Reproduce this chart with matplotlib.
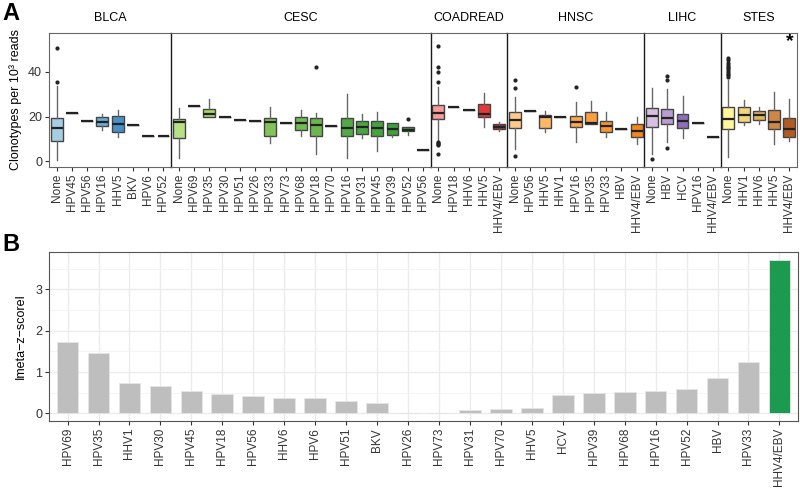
import matplotlib
matplotlib.use("Agg")
import matplotlib.pyplot as plt
import numpy as np

plt.rcParams['font.family'] = ['Liberation Sans', 'DejaVu Sans']

# ---------------- Panel A data (box stats) ----------------
BLCA_cats = ["None", "HPV45", "HPV56", "HPV16", "HHV5", "BKV", "HPV6", "HPV52"]
BLCA_lo   = [0.5, 21.5, 18.0, 14.0, 11.0, 16.1, 11.5, 11.3]
BLCA_q1   = [9.1, 21.5, 18.0, 15.7, 13.0, 16.1, 11.5, 11.3]
BLCA_med  = [15.0, 21.5, 18.0, 17.4, 16.8, 16.1, 11.5, 11.3]
BLCA_q3   = [19.2, 21.5, 18.0, 19.7, 20.4, 16.1, 11.5, 11.3]
BLCA_hi   = [33.7, 21.5, 18.0, 21.0, 22.8, 16.1, 11.5, 11.3]
BLCA_out  = [[35.6, 50.8], [], [], [], [], [], [], []]
BLCA_col  = ["#a6cee3", "#a6cee3", "#a6cee3", "#6baed6", "#4a90c8", "#4a90c8", "#3b7fba", "#2f6fae"]

CESC_cats = ["None", "HPV69", "HPV35", "HPV30", "HPV51", "HPV26", "HPV33", "HPV73", "HPV68",
             "HPV18", "HPV70", "HPV16", "HPV31", "HPV45", "HPV39", "HPV52", "HPV56"]
CESC_lo   = [1.6, 24.7, 19.8, 20.0, 18.3, 18.0, 8.3, 17.3, 11.3, 3.1, 15.7, 1.3, 10.6, 4.5, 11.0, 11.8, 5.1]
CESC_q1   = [10.6, 24.7, 19.8, 20.0, 18.3, 18.0, 11.5, 17.3, 14.1, 11.2, 15.7, 11.5, 12.1, 11.5, 11.6, 13.6, 5.1]
CESC_med  = [17.7, 24.7, 21.0, 20.0, 18.3, 18.0, 17.4, 17.3, 17.0, 16.4, 15.7, 15.0, 15.3, 14.9, 14.6, 14.1, 5.1]
CESC_q3   = [18.9, 24.7, 23.5, 20.0, 18.3, 18.0, 19.2, 17.3, 20.0, 19.2, 15.7, 19.2, 17.9, 18.2, 17.3, 15.3, 5.1]
CESC_hi   = [23.7, 24.7, 27.9, 20.0, 18.3, 18.0, 24.3, 17.3, 23.0, 21.6, 15.7, 30.1, 21.0, 22.2, 17.3, 15.3, 5.1]
CESC_out  = [[], [], [], [], [], [], [], [], [], [42.3], [], [], [], [], [], [19.1], []]
CESC_col  = ["#b8e186", "#b0dd80", "#a6d96a", "#a0d468", "#98cf63", "#90ca5e", "#84c35a", "#7cbf56",
             "#74bb52", "#6cb64e", "#60b04a", "#52aa45", "#4aa642", "#45a33f", "#40a03c", "#3a9c39", "#349936"]

COAD_cats = ["None", "HPV18", "HHV6", "HHV5", "HHV4/EBV"]
COAD_lo   = [9.5, 24.2, 23.0, 15.5, 13.6]
COAD_q1   = [18.8, 24.2, 23.0, 20.0, 14.5]
COAD_med  = [21.7, 24.2, 23.0, 21.3, 15.5]
COAD_q3   = [25.1, 24.2, 23.0, 25.8, 16.7]
COAD_hi   = [33.4, 24.2, 23.0, 30.4, 17.6]
COAD_out  = [[51.6, 42.2, 39.9, 35.6, 8.8, 8.3, 7.7, 7.2, 3.3], [], [], [], []]
COAD_col  = ["#f79b9b", "#f07070", "#ea5050", "#e3393b", "#c3262c"]

HNSC_cats = ["None", "HPV56", "HHV5", "HHV1", "HPV16", "HPV35", "HPV33", "HBV", "HHV4/EBV"]
HNSC_lo   = [5.6, 22.4, 13.2, 19.7, 8.8, 16.6, 11.0, 14.6, 7.7]
HNSC_q1   = [15.0, 22.4, 15.0, 19.7, 15.3, 16.6, 13.2, 14.6, 10.7]
HNSC_med  = [18.3, 22.4, 20.0, 19.7, 17.7, 17.0, 15.8, 14.6, 13.6]
HNSC_q3   = [22.1, 22.4, 20.7, 19.7, 20.4, 22.1, 18.2, 14.6, 16.7]
HNSC_hi   = [28.9, 22.4, 22.5, 19.7, 26.4, 27.0, 21.9, 14.6, 19.7]
HNSC_out  = [[36.2, 32.9, 2.4], [], [], [], [33.2], [], [], [], []]
HNSC_col  = ["#fdca8c", "#fdc27c", "#fdb765", "#fdb060", "#fca84e", "#fb9f3c", "#f99630", "#f88e22", "#f7861a"]

LIHC_cats = ["None", "HBV", "HCV", "HPV16", "HHV4/EBV"]
LIHC_lo   = [3.3, 8.8, 10.6, 17.1, 10.9]
LIHC_q1   = [15.5, 16.6, 15.0, 17.1, 10.9]
LIHC_med  = [20.4, 19.2, 18.2, 17.1, 10.9]
LIHC_q3   = [23.8, 23.4, 21.0, 17.1, 10.9]
LIHC_hi   = [32.7, 32.5, 29.2, 17.1, 10.9]
LIHC_out  = [[1.0], [38.3, 36.4, 5.8], [], [], []]
LIHC_col  = ["#d6bfe0", "#b89dd0", "#8f6db8", "#7a58a8", "#6a4a9c"]

STES_cats = ["None", "HHV1", "HHV6", "HHV5", "HHV4/EBV"]
STES_lo   = [2.1, 16.4, 16.6, 7.6, 8.9]
STES_q1   = [14.3, 17.6, 18.5, 14.3, 10.9]
STES_med  = [18.9, 20.7, 20.6, 17.7, 14.3]
STES_q3   = [24.2, 24.2, 22.5, 23.0, 19.2]
STES_hi   = [36.4, 27.3, 24.4, 31.0, 27.9]
STES_out  = [[37.9, 38.5, 39.2, 40.0, 40.8, 41.6, 42.3, 43.1, 44.0, 45.2, 46.1], [], [], [], []]
STES_col  = ["#fff59a", "#f2d67c", "#e4b45c", "#cd8746", "#b35a22"]

facets = [
    ("BLCA", BLCA_cats, BLCA_lo, BLCA_q1, BLCA_med, BLCA_q3, BLCA_hi, BLCA_out, BLCA_col),
    ("CESC", CESC_cats, CESC_lo, CESC_q1, CESC_med, CESC_q3, CESC_hi, CESC_out, CESC_col),
    ("COADREAD", COAD_cats, COAD_lo, COAD_q1, COAD_med, COAD_q3, COAD_hi, COAD_out, COAD_col),
    ("HNSC", HNSC_cats, HNSC_lo, HNSC_q1, HNSC_med, HNSC_q3, HNSC_hi, HNSC_out, HNSC_col),
    ("LIHC", LIHC_cats, LIHC_lo, LIHC_q1, LIHC_med, LIHC_q3, LIHC_hi, LIHC_out, LIHC_col),
    ("STES", STES_cats, STES_lo, STES_q1, STES_med, STES_q3, STES_hi, STES_out, STES_col),
]

# ---------------- Panel B data ----------------
B_cats = ["HPV69", "HPV35", "HHV1", "HPV30", "HPV45", "HPV18", "HPV56", "HHV6", "HPV6", "HPV51",
          "BKV", "HPV26", "HPV73", "HPV31", "HPV70", "HHV5", "HCV", "HPV39", "HPV68", "HPV16",
          "HPV52", "HBV", "HPV33", "HHV4/EBV"]
B_vals = [1.73, 1.47, 0.74, 0.67, 0.53, 0.46, 0.41, 0.38, 0.36, 0.31,
          0.26, 0.0, 0.005, 0.07, 0.10, 0.12, 0.45, 0.49, 0.52, 0.53,
          0.59, 0.86, 1.24, 3.72]

W, H = 800, 493
fig = plt.figure(figsize=(W / 100, H / 100), dpi=100)

# ---------------- Panel A ----------------
left_px, right_px = 49, 797
top_px, bot_px = 33, 167
total = sum(len(f[1]) for f in facets)
unit = (right_px - left_px) / total
x0 = left_px
tick_col = "#333333"
nf = len(facets)
for i, (name, cats, lo, q1, med, q3, hi, out, cols) in enumerate(facets):
    n = len(cats)
    w = n * unit
    ax = fig.add_axes([x0 / W, 1 - bot_px / H, w / W, (bot_px - top_px) / H])
    x0 += w
    stats = []
    for k in range(n):
        stats.append(dict(whislo=lo[k], q1=q1[k], med=med[k], q3=q3[k], whishi=hi[k],
                          fliers=out[k], label=cats[k]))
    bp = ax.bxp(stats, positions=np.arange(n), widths=0.78, patch_artist=True,
                showcaps=False,
                boxprops=dict(edgecolor="#444444", linewidth=1.0),
                whiskerprops=dict(color="#666666", linewidth=1.0),
                medianprops=dict(color="#222222", linewidth=1.6),
                flierprops=dict(marker="o", markersize=2.0, markerfacecolor="#222222",
                                markeredgecolor="#222222"))
    for patch, c in zip(bp["boxes"], cols):
        patch.set_facecolor(c)
    ax.set_xlim(-0.5, n - 0.5)
    ax.set_ylim(-2.6, 57.4)
    ax.set_xticks(np.arange(n))
    ax.set_xticklabels(cats, rotation=90, fontsize=8.5, color=tick_col)
    ax.tick_params(axis="x", length=3, width=0.8, color="#333333", pad=2)
    for s in ax.spines.values():
        s.set_color("#666666")
        s.set_linewidth(0.8)
    if i > 0:
        ax.spines["left"].set_color("#1a1a1a")
        ax.spines["left"].set_linewidth(1.0)
    if i < nf - 1:
        ax.spines["right"].set_visible(False)
    if i == 0:
        ax.set_yticks([0, 20, 40])
        ax.tick_params(axis="y", length=3, width=0.8, color="#333333", labelsize=9,
                       labelcolor=tick_col, pad=2)
        ax.set_ylabel("Clonotypes per 10³ reads", fontsize=9, labelpad=4)
    else:
        ax.set_yticks([])
    ax.set_title(name, fontsize=9, pad=9)
    if name == "STES":
        ax.text(n - 1, 53.5, "*", fontsize=14, ha="center", va="center", fontweight="bold")

# ---------------- Panel B ----------------
axb = fig.add_axes([49 / W, 1 - 421 / H, (798 - 49) / W, (421 - 252) / H])
xb = np.arange(len(B_cats))
bar_cols = ["#bebebe"] * (len(B_cats) - 1) + ["#1b9a50"]
axb.bar(xb, B_vals, width=0.7, color=bar_cols, edgecolor="#e6e6e6", linewidth=0.6, zorder=3)
axb.set_xlim(-0.6, len(B_cats) - 0.4)
axb.set_ylim(-0.186, 3.906)
axb.set_yticks([0, 1, 2, 3])
axb.set_yticks([0.5, 1.5, 2.5, 3.5], minor=True)
axb.set_xticks(xb)
axb.set_xticklabels(B_cats, rotation=90, fontsize=8.5, color=tick_col)
axb.grid(True, which="major", color="#ebebeb", linewidth=1.0, zorder=0)
axb.grid(True, which="minor", axis="y", color="#f2f2f2", linewidth=0.6, zorder=0)
axb.set_axisbelow(True)
axb.tick_params(axis="both", which="major", length=3, width=0.8, color="#333333",
                labelsize=9, labelcolor=tick_col, pad=2)
axb.tick_params(axis="x", labelsize=8.5)
axb.tick_params(which="minor", length=0)
for s in axb.spines.values():
    s.set_color("#555555")
    s.set_linewidth(0.8)
axb.set_ylabel("Imeta−z−scoreI", fontsize=9, labelpad=6)

fig.text(0.003, 0.995, "A", fontsize=17, fontweight="bold", va="top", ha="left")
fig.text(0.003, 0.527, "B", fontsize=17, fontweight="bold", va="top", ha="left")

fig.savefig("out.png", dpi=100)
